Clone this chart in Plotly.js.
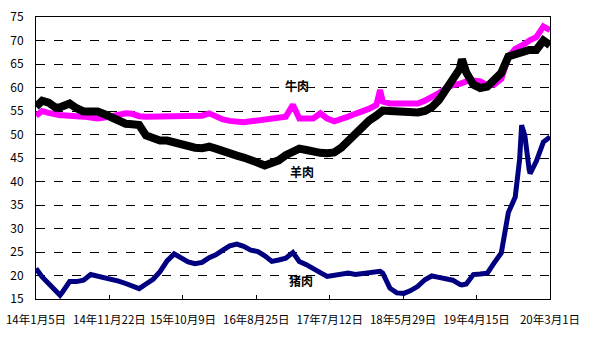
<!DOCTYPE html>
<html>
<head>
<meta charset="utf-8">
<script src="https://cdn.plot.ly/plotly-3.0.1.min.js"></script>
<style>html,body{margin:0;padding:0;background:#fff;}#chart{width:600px;height:337px;}</style>
</head>
<body>
<div id="chart"></div>
<script>
var dates = [
"2014-01-05","2014-02-01","2014-03-01","2014-04-01","2014-04-20","2014-05-01","2014-06-01","2014-07-01","2014-08-01","2014-09-01","2014-10-01","2014-11-01","2014-12-01",
"2015-01-01","2015-02-01","2015-03-01","2015-04-01","2015-05-01","2015-06-01","2015-07-01","2015-08-01","2015-09-01","2015-10-01","2015-11-01","2015-12-01",
"2016-01-01","2016-02-01","2016-03-01","2016-04-01","2016-05-01","2016-06-01","2016-07-01","2016-08-01","2016-09-01","2016-10-01","2016-11-01","2016-12-01",
"2017-01-01","2017-02-01","2017-03-01","2017-04-01","2017-05-01","2017-06-01","2017-07-01","2017-08-01","2017-09-01","2017-10-01","2017-11-01","2017-12-01",
"2018-01-01","2018-02-01","2018-02-17","2018-03-01","2018-04-01","2018-05-01","2018-06-01","2018-07-01","2018-08-01","2018-09-01","2018-10-01","2018-11-01","2018-12-01",
"2019-01-01","2019-02-01","2019-02-10","2019-03-01","2019-04-01","2019-05-01","2019-06-01","2019-07-01","2019-08-01","2019-09-01","2019-10-01","2019-10-20","2019-10-29","2019-11-01","2019-11-12","2019-11-20","2019-12-01","2019-12-05",
"2020-01-01","2020-02-01","2020-03-01"
];

// 牛肉 (beef)
var beef = [
54.0, 55.0, 54.6, 54.1, 54.1, 54.1, 54.1, 54.0, 53.8, 53.6, 53.4, 53.6, 53.9,
54.4, 54.5, 54.4, 53.9, 53.8, 53.8, 53.8, 53.8, 53.8, 53.8, 53.9, 54.0,
54.0, 54.5, 53.8, 53.2, 52.9, 52.7, 52.6, 52.8, 53.0, 53.2, 53.4, 53.6,
53.8, 56.3, 53.4, 53.4, 53.4, 54.5, 53.4, 52.8, 53.2, 53.8, 54.4, 54.9,
55.5, 56.3, 59.5, 57.0, 56.6, 56.6, 56.6, 56.6, 56.6, 57.2, 57.9, 58.8, 59.8,
60.5, 60.8, 61.0, 61.3, 61.5, 61.3, 60.5, 60.6, 61.8, 66.5, 68.2, 68.5, 68.8, 69.0, 69.3, 69.6, 70.0, 70.1,
70.7, 73.0, 72.2
];

// 羊肉 (mutton)
var mutton = [
55.9, 57.2, 56.8, 55.7, 55.8, 55.9, 56.6, 55.6, 54.9, 54.9, 54.9, 54.3, 53.6,
52.9, 52.3, 52.2, 52.0, 49.8, 49.2, 48.7, 48.7, 48.3, 47.8, 47.5, 47.2,
47.1, 47.4, 47.0, 46.4, 45.9, 45.5, 45.1, 44.7, 44.0, 43.4, 43.8, 44.5,
45.6, 46.6, 47.0, 46.7, 46.3, 46.1, 46.0, 46.2, 47.2, 48.7, 50.2, 51.7,
53.0, 54.0, 54.6, 55.1, 55.0, 54.9, 54.7, 54.6, 54.7, 55.0, 55.8, 57.3, 59.5,
61.4, 64.0, 66.0, 63.2, 60.6, 59.9, 60.2, 61.7, 63.1, 66.6, 67.2, 67.4, 67.6, 67.7, 67.8, 67.9, 68.0, 68.0,
68.0, 70.0, 69.0
];

// 猪肉 (pork)
var pork = [
21.5, 19.7, 18.3, 16.9, 15.8, 16.5, 18.7, 18.7, 19.0, 20.2, 19.9, 19.5, 19.1,
18.8, 18.3, 17.7, 17.2, 18.2, 19.2, 20.8, 23.1, 24.6, 23.9, 22.9, 22.5,
22.8, 23.8, 24.4, 25.4, 26.3, 26.7, 26.2, 25.4, 25.1, 24.2, 23.0, 23.3,
23.7, 24.9, 23.0, 22.3, 21.6, 20.6, 19.8, 20.1, 20.4, 20.5, 20.2, 20.4,
20.7, 21.0, 20.9, 20.5, 17.3, 16.3, 16.2, 16.8, 17.7, 19.1, 19.9, 19.6, 19.4,
19.0, 18.1, 18.0, 18.2, 20.2, 20.3, 20.5, 22.7, 24.8, 33.4, 36.7, 44.6, 52.0, 51.5, 49.8, 46.0, 42.5, 41.7,
44.3, 48.4, 49.5
];

var tickDates = ["2014-01-05","2014-11-22","2015-10-09","2016-08-25","2017-07-12","2018-05-29","2019-04-15","2020-03-01"];
var tickLabels = ["14年1月5日","14年11月22日","15年10月9日","16年8月25日","17年7月12日","18年5月29日","19年4月15日","20年3月1日"];

var seriesNames = ["猪肉","牛肉","羊肉"];

var traces = [
  {x: dates, y: pork, name: seriesNames[0], type: "scatter", mode: "lines", line: {color: "#000080", width: 5}},
  {x: dates, y: beef, name: seriesNames[1], type: "scatter", mode: "lines", line: {color: "#FF00FF", width: 6}},
  {x: dates, y: mutton, name: seriesNames[2], type: "scatter", mode: "lines", line: {color: "#000000", width: 8}}
];

var fam = "'Liberation Sans Narrow', 'Noto Sans CJK SC', sans-serif";
var labelFont = {family: "'Noto Sans CJK SC', sans-serif", size: 12, color: "#000", weight: "bold"};

var layout = {
  width: 600, height: 337,
  margin: {l: 36, r: 50, t: 17, b: 38},
  paper_bgcolor: "#fff", plot_bgcolor: "#fff",
  showlegend: false,
  xaxis: {
    type: "date",
    range: ["2014-01-05", "2020-03-01"],
    tickmode: "array", tickvals: tickDates, ticktext: tickLabels,
    tickangle: 0,
    ticks: "inside", ticklen: 4, tickcolor: "#000", tickwidth: 1,
    showgrid: false, zeroline: false,
    showline: true, mirror: true, linecolor: "#000", linewidth: 1,
    tickfont: {family: fam, size: 11.5, color: "#000"},
    ticklabelstandoff: 10
  },
  yaxis: {
    range: [15, 75], tick0: 15, dtick: 5,
    showgrid: true, gridcolor: "#000", gridwidth: 1, griddash: "dash",
    zeroline: false,
    showline: true, mirror: true, linecolor: "#000", linewidth: 1,
    ticks: "", tickfont: {family: fam, size: 12, color: "#000"},
    ticklabelstandoff: 9
  },
  annotations: [
    {xref: "paper", yref: "paper", x: 0.508, y: 0.757, text: "牛肉", showarrow: false, font: labelFont, xanchor: "center", yanchor: "middle"},
    {xref: "paper", yref: "paper", x: 0.517, y: 0.452, text: "羊肉", showarrow: false, font: labelFont, xanchor: "center", yanchor: "middle"},
    {xref: "paper", yref: "paper", x: 0.516, y: 0.067, text: "猪肉", showarrow: false, font: labelFont, xanchor: "center", yanchor: "middle"}
  ]
};

Plotly.newPlot("chart", traces, layout, {staticPlot: true, displayModeBar: false});
</script>
</body>
</html>
